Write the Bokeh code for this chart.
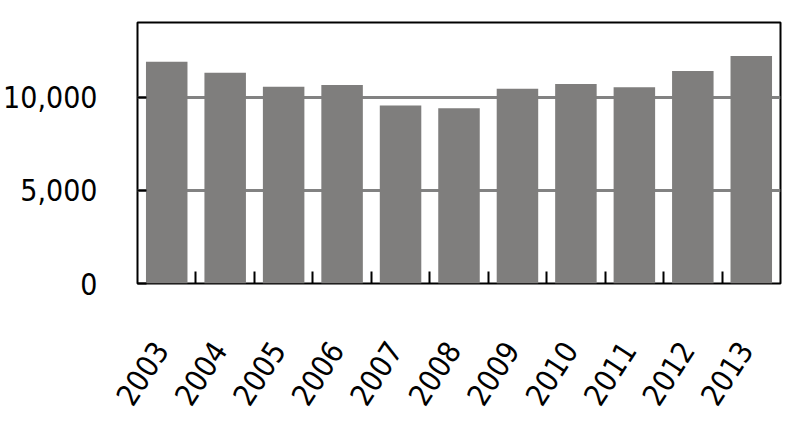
import math
from bokeh.plotting import figure
from bokeh.models import FixedTicker, NumeralTickFormatter, Range1d, ColumnDataSource
from bokeh.embed import file_html
from bokeh.resources import INLINE

years = ["2003", "2004", "2005", "2006", "2007", "2008", "2009", "2010", "2011", "2012", "2013"]
values = [11900, 11300, 10550, 10650, 9550, 9400, 10450, 10700, 10530, 11400, 12200]
y_ticks = [0, 5000, 10000]

idx = list(range(len(years)))
src = ColumnDataSource(dict(x=idx, top=values, year=years))

FONT = "DejaVu Sans Condensed"

p = figure(frame_width=643, frame_height=261, output_backend="svg", toolbar_location=None,
           x_range=Range1d(-0.5, len(years) - 0.5), y_range=Range1d(0, 14000),
           min_border_left=135, min_border_right=14, min_border_top=22, min_border_bottom=130)

p.vbar(x="x", top="top", width=0.71, bottom=0, source=src, fill_color="#7f7e7d", line_color=None)

p.outline_line_color = "black"
p.outline_line_width = 2
p.background_fill_color = "white"
p.border_fill_color = "white"

# grid
p.xgrid.grid_line_color = None
p.ygrid.grid_line_color = "#828282"
p.ygrid.grid_line_width = 3
p.ygrid.ticker = FixedTicker(ticks=[5000, 10000])

# y axis
p.yaxis.ticker = FixedTicker(ticks=y_ticks)
p.yaxis.formatter = NumeralTickFormatter(format="0,0")
p.yaxis.axis_line_color = None
p.yaxis.major_tick_in = 9
p.yaxis.major_tick_out = 0
p.yaxis.major_tick_line_color = "black"
p.yaxis.major_tick_line_width = 2
p.yaxis.minor_tick_line_color = None
p.yaxis.major_label_text_font = FONT
p.yaxis.major_label_text_font_size = "30px"
p.yaxis.major_label_text_color = "black"
p.yaxis.major_label_standoff = 40

# x axis: labels anchored slightly left of each bar centre, boundary ticks as minor ticks
label_pos = [i - 0.1 for i in idx]
p.xaxis.ticker = FixedTicker(ticks=label_pos, minor_ticks=[i + 0.5 for i in idx[:-1]])
p.xaxis.major_label_overrides = {pos: y for pos, y in zip(label_pos, years)}
p.xaxis.axis_line_color = None
p.xaxis.major_tick_line_color = None
p.xaxis.minor_tick_in = 12
p.xaxis.minor_tick_out = 0
p.xaxis.minor_tick_line_color = "black"
p.xaxis.minor_tick_line_width = 2
p.xaxis.major_label_orientation = math.radians(57)
p.xaxis.major_label_text_font = FONT
p.xaxis.major_label_text_font_size = "30px"
p.xaxis.major_label_text_color = "black"
p.xaxis.major_label_standoff = 55

open("out.html", "w").write(file_html(p, INLINE))
